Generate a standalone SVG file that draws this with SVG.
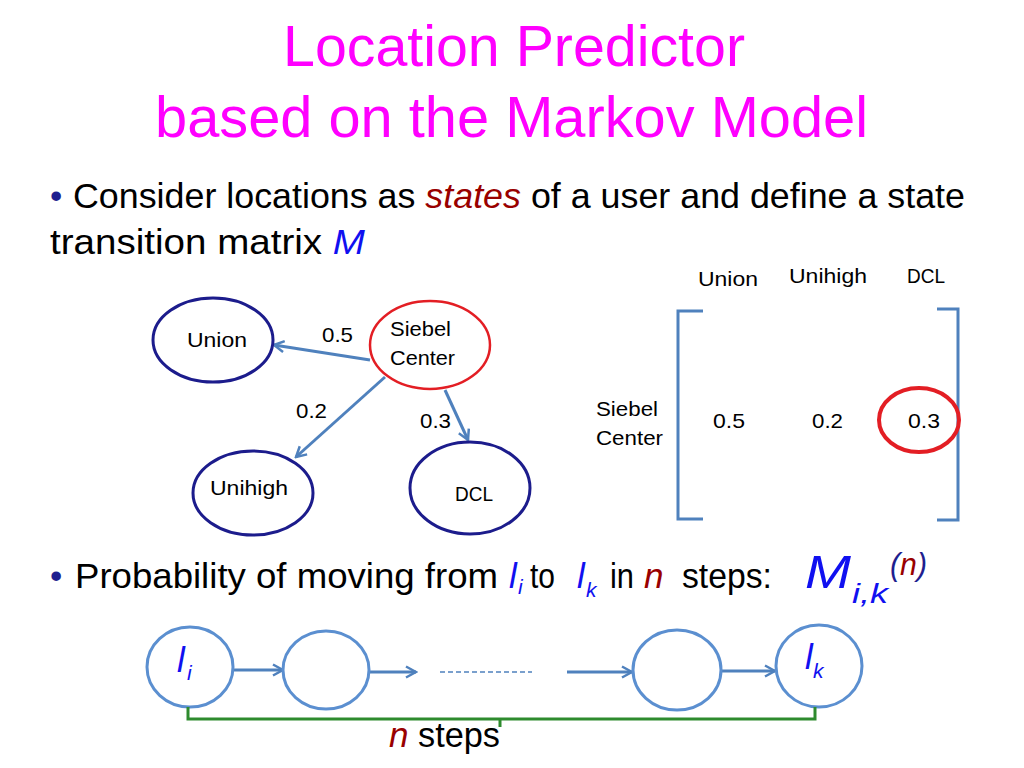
<svg xmlns="http://www.w3.org/2000/svg" width="1024" height="768" viewBox="0 0 1024 768">
<defs>
<style>
text{font-family:"Liberation Sans",Arial,sans-serif;fill:#000}
.title{font-size:57px;fill:#FF00FF}
.body{font-size:35px}
.lbl{font-size:21px}
.bul{fill:#1F1F8F}
.it{font-style:italic}
.blue{fill:#1010F0}
.dred{fill:#990000}
.navy{fill:#1F1F8F}
.node{fill:#fff;stroke:#1C1C8C;stroke-width:3}
.src{fill:#fff;stroke:#E31E24;stroke-width:2.5}
.edge{stroke:#4F81BD;stroke-width:3;fill:none;marker-end:url(#arr)}
.circ{fill:#fff;stroke:#5B8FD0;stroke-width:3}
.brk{stroke:#4F81BD;stroke-width:3;fill:none}
</style>
<marker id="arr" viewBox="0 0 14 14" refX="12" refY="7" markerWidth="14" markerHeight="14" markerUnits="userSpaceOnUse" orient="auto">
<path d="M2,1.5 L12,7 L2,12.5" fill="none" stroke="#4F81BD" stroke-width="2.5"/>
</marker>
</defs>
<rect width="1024" height="768" fill="#fff"/>

<g id="title">
<text class="title" x="283" y="66" textLength="462" lengthAdjust="spacingAndGlyphs">Location Predictor</text>
<text class="title" x="155" y="137" textLength="713" lengthAdjust="spacingAndGlyphs">based on the Markov Model</text>
</g>

<g id="bullet1">
<text class="body bul" x="50" y="208">•</text>
<text class="body" x="73" y="208" textLength="892" lengthAdjust="spacingAndGlyphs">Consider locations as <tspan class="it dred">states</tspan> of a user and define a state</text>
<text class="body" x="50" y="254" textLength="315" lengthAdjust="spacingAndGlyphs">transition matrix <tspan class="it blue">M</tspan></text>
</g>

<g id="connectors">
<line class="edge" x1="370" y1="360" x2="274" y2="345"/>
<line class="edge" x1="385" y1="377" x2="296" y2="457"/>
<line class="edge" x1="445" y1="390" x2="468" y2="440"/>
</g>

<g id="node-union">
<ellipse class="node" cx="213" cy="340" rx="60" ry="42"/>
<text class="lbl" x="187" y="347" textLength="60" lengthAdjust="spacingAndGlyphs">Union</text>
</g>
<g id="node-siebel">
<ellipse class="src" cx="430" cy="345" rx="60" ry="44"/>
<text class="lbl" x="390" y="336" textLength="61" lengthAdjust="spacingAndGlyphs">Siebel</text>
<text class="lbl" x="390" y="365" textLength="65" lengthAdjust="spacingAndGlyphs">Center</text>
</g>
<g id="node-unihigh">
<ellipse class="node" cx="253" cy="493" rx="60" ry="42"/>
<text class="lbl" x="210" y="495" textLength="78" lengthAdjust="spacingAndGlyphs">Unihigh</text>
</g>
<g id="node-dcl">
<ellipse class="node" cx="470" cy="488" rx="60" ry="46"/>
<text class="lbl" x="455" y="501" textLength="38" lengthAdjust="spacingAndGlyphs">DCL</text>
</g>
<g id="edge-labels">
<text class="lbl" x="322" y="342" textLength="31" lengthAdjust="spacingAndGlyphs">0.5</text>
<text class="lbl" x="296" y="418" textLength="31" lengthAdjust="spacingAndGlyphs">0.2</text>
<text class="lbl" x="420" y="428" textLength="31" lengthAdjust="spacingAndGlyphs">0.3</text>
</g>

<g id="matrix">
<text class="lbl" x="698" y="286" textLength="60" lengthAdjust="spacingAndGlyphs">Union</text>
<text class="lbl" x="789" y="283" textLength="78" lengthAdjust="spacingAndGlyphs">Unihigh</text>
<text class="lbl" x="907" y="283" textLength="38" lengthAdjust="spacingAndGlyphs">DCL</text>
<text class="lbl" x="596" y="416" textLength="62" lengthAdjust="spacingAndGlyphs">Siebel</text>
<text class="lbl" x="596" y="445" textLength="67" lengthAdjust="spacingAndGlyphs">Center</text>
<path class="brk" d="M703,311 H678 V519 H703"/>
<path class="brk" d="M937,309 H958 V520 H937"/>
<text class="lbl" x="713" y="428" textLength="32" lengthAdjust="spacingAndGlyphs">0.5</text>
<text class="lbl" x="812" y="428" textLength="31" lengthAdjust="spacingAndGlyphs">0.2</text>
<text class="lbl" x="908" y="428" textLength="32" lengthAdjust="spacingAndGlyphs">0.3</text>
<ellipse cx="919" cy="420" rx="40" ry="32" fill="none" stroke="#E31E24" stroke-width="4"/>
</g>

<g id="bullet2">
<text class="body bul" x="50" y="588">•</text>
<text class="body" x="75" y="588" textLength="423" lengthAdjust="spacingAndGlyphs">Probability of moving from</text>
<text class="body it blue" x="509" y="588">l</text>
<text class="it blue" x="518" y="594" font-size="21">i</text>
<text class="body" x="530" y="588" textLength="25" lengthAdjust="spacingAndGlyphs">to</text>
<text class="body it blue" x="577" y="588">l</text>
<text class="it blue" x="586" y="597" font-size="21">k</text>
<text class="body" x="610" y="588" textLength="24" lengthAdjust="spacingAndGlyphs">in</text>
<text class="body it dred" x="644" y="588">n</text>
<text class="body" x="682" y="588" textLength="90" lengthAdjust="spacingAndGlyphs">steps:</text>
<text class="it blue" x="805" y="588" font-size="46" textLength="46" lengthAdjust="spacingAndGlyphs">M</text>
<text class="it blue" x="852" y="603" font-size="28" textLength="36" lengthAdjust="spacingAndGlyphs">i,k</text>
<text class="it" x="890" y="575" font-size="31" textLength="37" lengthAdjust="spacingAndGlyphs"><tspan class="navy">(</tspan><tspan class="dred">n</tspan><tspan class="navy">)</tspan></text>
</g>

<g id="chain-connectors">
<line class="edge" x1="233" y1="670" x2="283" y2="670"/>
<line class="edge" x1="367" y1="672" x2="416" y2="672"/>
<line x1="440" y1="672" x2="532" y2="672" stroke="#4F81BD" stroke-width="1.5" stroke-dasharray="5,3"/>
<line class="edge" x1="567" y1="672" x2="632" y2="672"/>
<line class="edge" x1="708" y1="671" x2="775" y2="671"/>
</g>
<g id="chain-li">
<ellipse class="circ" cx="190" cy="667" rx="43" ry="40"/>
<text class="body it blue" x="177" y="672">l</text>
<text class="it blue" x="187" y="680" font-size="21">i</text>
</g>
<g id="chain-2">
<ellipse class="circ" cx="326" cy="670" rx="43" ry="39"/>
</g>
<g id="chain-3">
<ellipse class="circ" cx="677" cy="670" rx="44" ry="40"/>
</g>
<g id="chain-lk">
<ellipse class="circ" cx="819" cy="666" rx="43" ry="41"/>
<text class="body it blue" x="805" y="669">l</text>
<text class="it blue" x="813" y="678" font-size="21">k</text>
</g>
<g id="n-steps">
<path d="M188,707 V719 H815 V707 M500,719 V727" fill="none" stroke="#2E8B2E" stroke-width="3"/>
<text class="body it dred" x="389" y="747">n</text>
<text class="body" x="418" y="747" textLength="82" lengthAdjust="spacingAndGlyphs">steps</text>
</g>
</svg>
